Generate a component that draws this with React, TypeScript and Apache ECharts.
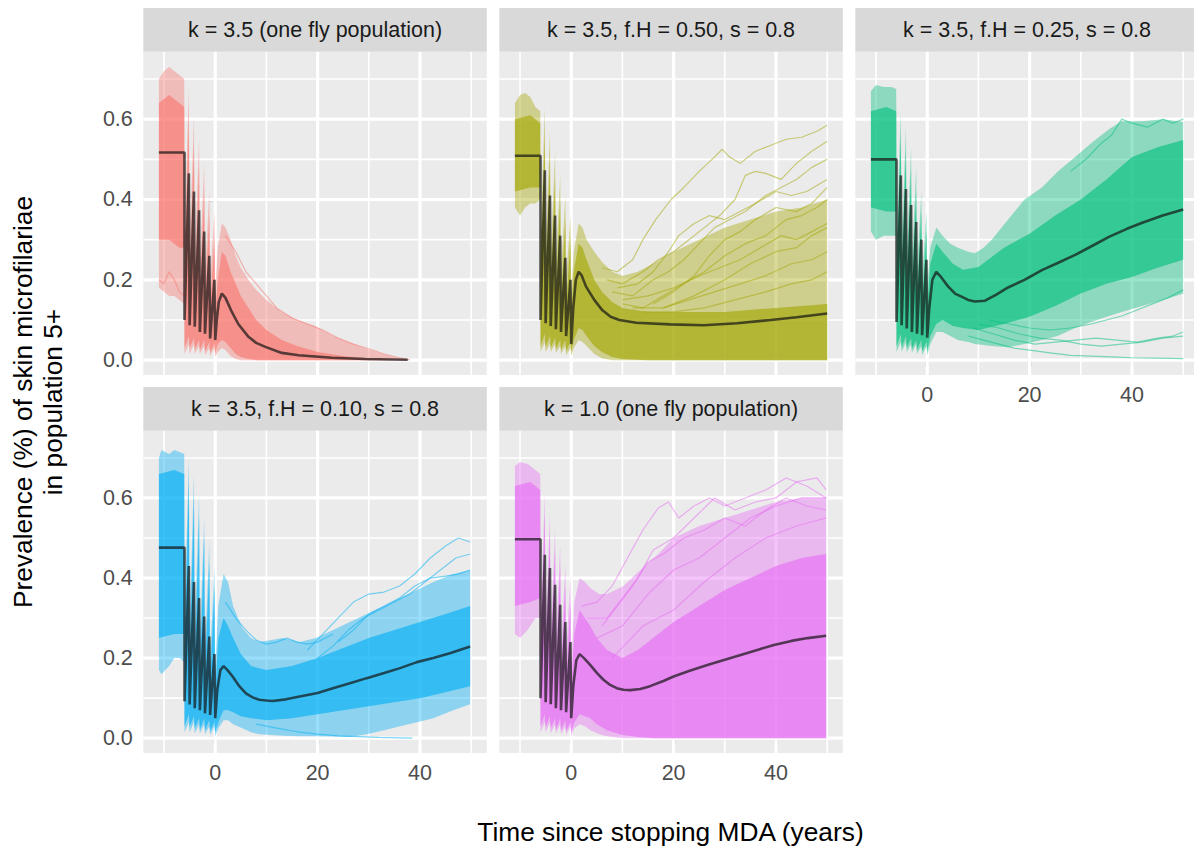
import { useEffect, useRef } from "react";
import * as echarts from "echarts";

type Band = [number, number, number][]; // [year, low, high]
type Pts = [number, number][];

const TITLES = [
  "k = 3.5 (one fly population)",
  "k = 3.5, f.H = 0.50, s = 0.8",
  "k = 3.5, f.H = 0.25, s = 0.8",
  "k = 3.5, f.H = 0.10, s = 0.8",
  "k = 1.0 (one fly population)",
];
const COLORS = ["#F8766D", "#A3A500", "#00BF7D", "#00B0F6", "#E76BF3"];

const X_MAJOR = [0, 20, 40];
const X_MINOR = [-10, 10, 30, 50];
const Y_MAJOR = [0, 0.2, 0.4, 0.6];
const Y_MINOR = [0.1, 0.3, 0.5, 0.7];

// ---- mean prevalence across runs ----
const MEAN_1: Pts = [
  [-11, 0.517], [-6, 0.517], [-6, 0.1], [-5.15, 0.465], [-5, 0.087], [-4.15, 0.42], [-4, 0.083],
  [-3.15, 0.373], [-3, 0.07], [-2.15, 0.32], [-2, 0.066], [-1.15, 0.26], [-1, 0.054], [-0.15, 0.2],
  [0, 0.05], [0.3, 0.1], [0.7, 0.145], [1.3, 0.166], [2, 0.155], [3.25, 0.12], [4.5, 0.09],
  [6.5, 0.058], [8, 0.043], [9.8, 0.033], [13, 0.018], [16.3, 0.012], [22.8, 0.006], [29.3, 0.003], [37.6, 0.001],
];
const MEAN_2: Pts = [
  [-11, 0.509], [-6, 0.509], [-6, 0.1], [-5.15, 0.473], [-5, 0.092], [-4.15, 0.41], [-4, 0.085],
  [-3.15, 0.36], [-3, 0.077], [-2.15, 0.31], [-2, 0.07], [-1.15, 0.255], [-1, 0.06], [-0.15, 0.2],
  [0, 0.04], [0.4, 0.13], [0.9, 0.2], [1.45, 0.22], [2, 0.212], [2.9, 0.183], [4.5, 0.15], [6.1, 0.124],
  [7.7, 0.108], [9.4, 0.1], [12.7, 0.093], [19.3, 0.089], [25.9, 0.087], [32.4, 0.092], [39, 0.1],
  [44, 0.107], [50, 0.116],
];
const MEAN_3: Pts = [
  [-11, 0.5], [-6, 0.5], [-6, 0.095], [-5.15, 0.46], [-5, 0.087], [-4.15, 0.426], [-4, 0.079],
  [-3.15, 0.386], [-3, 0.07], [-2.15, 0.344], [-2, 0.066], [-1.15, 0.3], [-1, 0.062], [-0.15, 0.25],
  [0, 0.056], [0.4, 0.13], [1, 0.2], [1.77, 0.22], [2.5, 0.21], [4.1, 0.183], [5.5, 0.165], [6.7, 0.158],
  [8, 0.15], [9.3, 0.146], [11.3, 0.148], [13.5, 0.163], [15.8, 0.181], [19, 0.2], [22.4, 0.224],
  [25.5, 0.242], [28.9, 0.262], [32, 0.283], [35.5, 0.307], [39, 0.327], [42, 0.342], [46, 0.36], [50, 0.375],
];
const MEAN_4: Pts = [
  [-11, 0.476], [-6, 0.476], [-6, 0.092], [-5.15, 0.43], [-5, 0.084], [-4.15, 0.39], [-4, 0.075],
  [-3.15, 0.35], [-3, 0.07], [-2.15, 0.304], [-2, 0.062], [-1.15, 0.254], [-1, 0.058], [-0.15, 0.21],
  [0, 0.05], [0.4, 0.12], [1, 0.17], [1.64, 0.18], [2.4, 0.17], [3.4, 0.154], [4.7, 0.13], [6, 0.112],
  [7.3, 0.102], [8.6, 0.096], [10, 0.094], [11.2, 0.093], [13.8, 0.097], [16.5, 0.104], [20, 0.113],
  [23, 0.125], [26.3, 0.137], [29.6, 0.15], [33, 0.163], [36.1, 0.175], [39.4, 0.19], [42.6, 0.2],
  [46, 0.213], [49.8, 0.229],
];
const MEAN_5: Pts = [
  [-11, 0.497], [-6, 0.497], [-6, 0.1], [-5.15, 0.458], [-5, 0.09], [-4.15, 0.425], [-4, 0.085],
  [-3.15, 0.383], [-3, 0.075], [-2.15, 0.333], [-2, 0.07], [-1.15, 0.29], [-1, 0.065], [-0.15, 0.24],
  [0, 0.05], [0.4, 0.13], [1, 0.195], [1.64, 0.21], [2.5, 0.2], [3.7, 0.183], [5, 0.163], [6.3, 0.146],
  [7.6, 0.133], [8.9, 0.125], [10.2, 0.121], [11.5, 0.12], [13.5, 0.123], [15.4, 0.13], [18, 0.143],
  [20, 0.154], [23, 0.168], [26.6, 0.183], [30, 0.196], [33.1, 0.208], [36.5, 0.221], [39.6, 0.233],
  [43, 0.243], [46.2, 0.25], [49.8, 0.256],
];

// ---- full spread of the runs ----
const OUTER_1: Band = [
  [-11, 0.18, 0.7], [-10, 0.17, 0.72], [-9, 0.16, 0.73], [-8, 0.16, 0.72], [-7, 0.15, 0.71], [-6.05, 0.14, 0.7],
  [-6, 0.015, 0.3], [-5.15, 0.04, 0.68], [-5, 0.015, 0.28], [-4.15, 0.04, 0.61], [-4, 0.015, 0.26],
  [-3.15, 0.035, 0.55], [-3, 0.015, 0.24], [-2.15, 0.035, 0.49], [-2, 0.012, 0.22], [-1.15, 0.03, 0.42],
  [-1, 0.01, 0.2], [-0.15, 0.03, 0.37], [0, 0.008, 0.17],
  [0.5, 0.02, 0.28], [1.3, 0.03, 0.34], [2, 0.025, 0.33], [3, 0.01, 0.3], [4, 0.003, 0.26], [5, 0, 0.23],
  [6.5, 0, 0.2], [8, 0, 0.175], [10, 0, 0.15], [13, 0, 0.12], [16, 0, 0.1], [19.5, 0, 0.085], [23, 0, 0.06],
  [26, 0, 0.045], [29, 0, 0.03], [32.5, 0, 0.015], [35, 0, 0.007], [38, 0, 0.001],
];
const OUTER_2: Band = [
  [-11, 0.38, 0.64], [-10, 0.36, 0.66], [-9, 0.38, 0.665], [-8, 0.39, 0.655], [-7, 0.39, 0.63], [-6.05, 0.4, 0.62],
  [-6, 0.02, 0.3], [-5.15, 0.045, 0.63], [-5, 0.02, 0.28], [-4.15, 0.04, 0.57], [-4, 0.02, 0.26],
  [-3.15, 0.04, 0.52], [-3, 0.018, 0.24], [-2.15, 0.035, 0.46], [-2, 0.015, 0.22], [-1.15, 0.035, 0.41],
  [-1, 0.012, 0.2], [-0.15, 0.03, 0.36], [0, 0.01, 0.17],
  [0.5, 0.03, 0.27], [1.45, 0.05, 0.34], [2.2, 0.045, 0.33], [3, 0.035, 0.3], [4.5, 0.015, 0.27],
  [6, 0.005, 0.245], [8, 0, 0.22], [10, 0, 0.21], [13, 0, 0.22], [16, 0, 0.24], [20, 0, 0.27], [25, 0, 0.3],
  [30, 0, 0.33], [35, 0, 0.35], [40, 0, 0.37], [45, 0, 0.38], [50, 0, 0.4],
];
const OUTER_3: Band = [
  [-11, 0.32, 0.67], [-10, 0.3, 0.685], [-8.5, 0.31, 0.68], [-7, 0.31, 0.68], [-6.05, 0.31, 0.675],
  [-6, 0.02, 0.3], [-5.15, 0.045, 0.62], [-5, 0.02, 0.28], [-4.15, 0.045, 0.58], [-4, 0.02, 0.26],
  [-3.15, 0.04, 0.53], [-3, 0.018, 0.24], [-2.15, 0.04, 0.48], [-2, 0.015, 0.22], [-1.15, 0.035, 0.42],
  [-1, 0.012, 0.2], [-0.15, 0.035, 0.37], [0, 0.012, 0.18],
  [0.6, 0.04, 0.28], [1.77, 0.07, 0.33], [3, 0.07, 0.31], [4.5, 0.06, 0.29], [6, 0.05, 0.28], [8, 0.045, 0.27],
  [9.3, 0.04, 0.266], [11, 0.038, 0.28], [12.6, 0.035, 0.3], [15.8, 0.032, 0.35], [19, 0.04, 0.4],
  [22.4, 0.05, 0.43], [25.5, 0.06, 0.47], [28.9, 0.08, 0.506], [32, 0.095, 0.54], [35.5, 0.11, 0.575],
  [38, 0.12, 0.595], [42, 0.135, 0.595], [46, 0.15, 0.6], [50, 0.165, 0.593],
];
const OUTER_4: Band = [
  [-11, 0.17, 0.7], [-10.5, 0.16, 0.72], [-9, 0.18, 0.71], [-8, 0.2, 0.72], [-7, 0.2, 0.715], [-6.05, 0.19, 0.71],
  [-6, 0.015, 0.3], [-5.15, 0.04, 0.7], [-5, 0.015, 0.28], [-4.15, 0.04, 0.66], [-4, 0.012, 0.26],
  [-3.15, 0.035, 0.61], [-3, 0.012, 0.24], [-2.15, 0.035, 0.55], [-2, 0.01, 0.22], [-1.15, 0.03, 0.49],
  [-1, 0.008, 0.2], [-0.15, 0.03, 0.43], [0, 0.005, 0.17],
  [0.6, 0.025, 0.33], [1.64, 0.045, 0.41], [2.5, 0.045, 0.39], [3.5, 0.035, 0.33], [5.3, 0.025, 0.275],
  [7, 0.015, 0.25], [8.6, 0.01, 0.24], [11, 0.008, 0.245], [13.2, 0.006, 0.25], [16.5, 0.005, 0.24],
  [19.7, 0.005, 0.25], [23, 0.004, 0.27], [26.3, 0.003, 0.29], [29.6, 0.01, 0.31], [33, 0.02, 0.33],
  [36.1, 0.03, 0.35], [39.4, 0.04, 0.37], [42.6, 0.05, 0.39], [46.5, 0.07, 0.41], [49.8, 0.085, 0.42],
];
const OUTER_5: Band = [
  [-11, 0.26, 0.68], [-10, 0.25, 0.69], [-8.5, 0.27, 0.685], [-7, 0.3, 0.67], [-6.05, 0.3, 0.66],
  [-6, 0.015, 0.3], [-5.15, 0.04, 0.61], [-5, 0.015, 0.28], [-4.15, 0.04, 0.56], [-4, 0.012, 0.26],
  [-3.15, 0.035, 0.525], [-3, 0.012, 0.24], [-2.15, 0.035, 0.483], [-2, 0.01, 0.22], [-1.15, 0.03, 0.433],
  [-1, 0.008, 0.21], [-0.15, 0.03, 0.404], [0, 0.005, 0.19],
  [0.6, 0.025, 0.34], [1.64, 0.035, 0.4], [2.7, 0.03, 0.39], [3.7, 0.02, 0.375], [5.5, 0.01, 0.36],
  [7, 0.005, 0.36], [10.2, 0, 0.38], [13.5, 0, 0.42], [17, 0, 0.46], [20, 0, 0.5], [25, 0, 0.53],
  [30, 0, 0.55], [35, 0, 0.57], [40, 0, 0.59], [45, 0, 0.6], [49.8, 0, 0.6],
];

// ---- where most runs lie ----
const CORE_1: Band = [
  [-11, 0.3, 0.64], [-9, 0.3, 0.66], [-7, 0.28, 0.64], [-6.05, 0.28, 0.63],
  [-6, 0.03, 0.22], [-5.15, 0.06, 0.6], [-5, 0.03, 0.2], [-4.15, 0.055, 0.54], [-4, 0.028, 0.18],
  [-3.15, 0.05, 0.48], [-3, 0.025, 0.16], [-2.15, 0.05, 0.42], [-2, 0.022, 0.14], [-1.15, 0.045, 0.36],
  [-1, 0.02, 0.13], [-0.15, 0.04, 0.3], [0, 0.018, 0.12],
  [0.5, 0.04, 0.2], [1.3, 0.05, 0.27], [2, 0.045, 0.26], [3, 0.03, 0.22], [4, 0.015, 0.19], [5, 0.008, 0.16],
  [6.5, 0.003, 0.13], [8, 0, 0.1], [10, 0, 0.075], [13, 0, 0.05], [16, 0, 0.035], [20, 0, 0.02],
  [25, 0, 0.01], [30, 0, 0.004], [37.5, 0, 0.001],
];
const CORE_2: Band = [
  [-11, 0.42, 0.6], [-8, 0.43, 0.61], [-6.05, 0.43, 0.59],
  [-6, 0.035, 0.22], [-5.15, 0.065, 0.56], [-5, 0.032, 0.2], [-4.15, 0.06, 0.5], [-4, 0.03, 0.18],
  [-3.15, 0.055, 0.45], [-3, 0.028, 0.16], [-2.15, 0.05, 0.4], [-2, 0.025, 0.14], [-1.15, 0.05, 0.35],
  [-1, 0.022, 0.13], [-0.15, 0.045, 0.3], [0, 0.02, 0.12],
  [0.5, 0.05, 0.22], [1.45, 0.08, 0.29], [2.2, 0.075, 0.28], [3, 0.06, 0.25], [4.5, 0.035, 0.2],
  [6, 0.02, 0.17], [8, 0.008, 0.145], [10, 0.003, 0.13], [15, 0, 0.12], [20, 0, 0.12], [30, 0, 0.12],
  [40, 0, 0.13], [50, 0, 0.14],
];
const CORE_3: Band = [
  [-11, 0.38, 0.62], [-8, 0.37, 0.63], [-6.05, 0.37, 0.62],
  [-6, 0.035, 0.22], [-5.15, 0.065, 0.56], [-5, 0.032, 0.2], [-4.15, 0.06, 0.52], [-4, 0.03, 0.18],
  [-3.15, 0.055, 0.47], [-3, 0.028, 0.16], [-2.15, 0.05, 0.42], [-2, 0.025, 0.15], [-1.15, 0.05, 0.37],
  [-1, 0.022, 0.14], [-0.15, 0.045, 0.32], [0, 0.022, 0.13],
  [0.6, 0.06, 0.24], [1.77, 0.09, 0.29], [3, 0.1, 0.27], [5, 0.085, 0.24], [7, 0.08, 0.225],
  [10, 0.075, 0.232], [15, 0.09, 0.28], [20, 0.108, 0.315], [25, 0.135, 0.36], [30, 0.166, 0.4],
  [35, 0.19, 0.45], [40, 0.207, 0.506], [45, 0.23, 0.53], [50, 0.25, 0.548],
];
const CORE_4: Band = [
  [-11, 0.25, 0.66], [-8, 0.26, 0.67], [-6.05, 0.26, 0.66],
  [-6, 0.03, 0.22], [-5.15, 0.06, 0.64], [-5, 0.028, 0.2], [-4.15, 0.055, 0.6], [-4, 0.025, 0.18],
  [-3.15, 0.05, 0.55], [-3, 0.022, 0.16], [-2.15, 0.05, 0.5], [-2, 0.02, 0.15], [-1.15, 0.045, 0.44],
  [-1, 0.018, 0.14], [-0.15, 0.04, 0.38], [0, 0.015, 0.12],
  [0.6, 0.04, 0.25], [1.64, 0.07, 0.3], [2.5, 0.07, 0.28], [3.5, 0.065, 0.25], [5, 0.055, 0.21],
  [7, 0.05, 0.18], [10, 0.045, 0.17], [15, 0.05, 0.18], [20, 0.06, 0.2], [25, 0.07, 0.225],
  [30, 0.08, 0.25], [35, 0.09, 0.27], [40, 0.1, 0.29], [45, 0.115, 0.31], [49.8, 0.13, 0.33],
];
const CORE_5: Band = [
  [-11, 0.33, 0.63], [-8, 0.34, 0.64], [-6.05, 0.35, 0.62],
  [-6, 0.03, 0.22], [-5.15, 0.06, 0.56], [-5, 0.028, 0.2], [-4.15, 0.055, 0.51], [-4, 0.025, 0.18],
  [-3.15, 0.05, 0.47], [-3, 0.022, 0.16], [-2.15, 0.05, 0.43], [-2, 0.02, 0.15], [-1.15, 0.045, 0.38],
  [-1, 0.018, 0.14], [-0.15, 0.04, 0.34], [0, 0.015, 0.13],
  [0.6, 0.04, 0.26], [1.64, 0.06, 0.32], [2.7, 0.055, 0.3], [3.7, 0.05, 0.28], [5, 0.035, 0.25],
  [7, 0.02, 0.22], [10, 0.008, 0.2], [13, 0.003, 0.22], [16, 0, 0.25], [20, 0, 0.29], [25, 0, 0.33],
  [30, 0, 0.37], [35, 0, 0.4], [40, 0, 0.43], [45, 0, 0.45], [49.8, 0, 0.46],
];

// ---- individual runs standing out from the crowd ----
const RUNS_1: Pts[] = [
  [[2, 0.31], [4, 0.27], [6, 0.22], [8, 0.19], [10, 0.16], [12, 0.13], [15, 0.105], [18, 0.09], [21, 0.075],
    [24, 0.055], [27, 0.04], [30, 0.028], [33, 0.015], [36, 0.006], [38, 0.001]],
  [[-11, 0.2], [-10, 0.19], [-9, 0.22], [-8, 0.2], [-7, 0.17], [-6.05, 0.16]],
];
const RUNS_2: Pts[] = [
  [[6, 0.23], [9, 0.22], [12, 0.25], [14, 0.3], [16.5, 0.35], [19.5, 0.4], [22, 0.43], [25, 0.47], [27.5, 0.5],
    [29.5, 0.525], [31, 0.505], [33, 0.49], [36, 0.52], [39, 0.535], [42, 0.55], [45, 0.555], [48, 0.57], [50, 0.585]],
  [[7, 0.2], [10, 0.19], [14, 0.22], [17, 0.25], [20, 0.27], [23, 0.3], [26, 0.33], [29, 0.36], [32, 0.4],
    [34, 0.46], [36, 0.47], [38, 0.465], [41, 0.45], [44, 0.49], [47, 0.52], [50, 0.545]],
  [[8, 0.17], [12, 0.16], [16, 0.2], [19, 0.22], [22, 0.25], [25, 0.29], [28, 0.33], [31, 0.35], [34, 0.37],
    [38, 0.41], [41, 0.43], [44, 0.45], [47, 0.48], [50, 0.5]],
  [[9, 0.18], [13, 0.19], [16, 0.22], [19, 0.27], [21, 0.31], [24, 0.34], [27, 0.36], [30, 0.35], [33, 0.37],
    [36, 0.39], [40, 0.42], [43, 0.41], [46, 0.42], [50, 0.45]],
  [[10, 0.14], [14, 0.13], [18, 0.16], [22, 0.19], [26, 0.22], [30, 0.26], [34, 0.29], [38, 0.31], [42, 0.35],
    [45, 0.36], [48, 0.38], [50, 0.4]],
  [[10, 0.15], [15, 0.16], [20, 0.18], [25, 0.21], [29, 0.23], [33, 0.25], [37, 0.28], [41, 0.31], [44, 0.3],
    [47, 0.32], [50, 0.34]],
  [[12, 0.13], [18, 0.13], [23, 0.15], [28, 0.17], [33, 0.19], [38, 0.21], [43, 0.24], [47, 0.25], [50, 0.27]],
  [[14, 0.12], [20, 0.12], [26, 0.13], [32, 0.15], [38, 0.17], [43, 0.19], [47, 0.2], [50, 0.22]],
  [[16, 0.14], [20, 0.17], [24, 0.21], [27, 0.26], [30, 0.3], [33, 0.32], [36, 0.35], [40, 0.38], [44, 0.37],
    [47, 0.39], [50, 0.43]],
  [[18, 0.13], [24, 0.16], [30, 0.2], [35, 0.24], [40, 0.27], [44, 0.28], [47, 0.31], [50, 0.33]],
];
const RUNS_3: Pts[] = [
  [[8, 0.06], [11, 0.05], [14, 0.04], [17, 0.03], [20, 0.025], [24, 0.018], [28, 0.012], [32, 0.01], [36, 0.008],
    [40, 0.006], [45, 0.005], [50, 0.004]],
  [[9, 0.08], [13, 0.065], [17, 0.05], [21, 0.04], [25, 0.045], [29, 0.05], [33, 0.055], [37, 0.05], [41, 0.045],
    [45, 0.055], [48, 0.06], [50, 0.07]],
  [[10, 0.09], [14, 0.08], [18, 0.065], [22, 0.055], [26, 0.05], [30, 0.04], [34, 0.035], [38, 0.04], [42, 0.045],
    [46, 0.055], [50, 0.06]],
  [[12, 0.1], [16, 0.09], [20, 0.08], [24, 0.075], [28, 0.08], [32, 0.09], [35, 0.1], [38, 0.11], [41, 0.125],
    [44, 0.14], [47, 0.155], [50, 0.175]],
  [[28, 0.47], [31, 0.5], [34, 0.54], [36, 0.56], [38, 0.6], [40, 0.59], [43, 0.58], [46, 0.6], [48, 0.59], [50, 0.6]],
];
const RUNS_4: Pts[] = [
  [[18, 0.22], [21, 0.26], [24, 0.3], [27, 0.34], [30, 0.36], [33, 0.365], [36, 0.38], [39, 0.41], [42, 0.45],
    [45, 0.48], [47.5, 0.5], [49.8, 0.49]],
  [[20, 0.2], [23, 0.23], [26, 0.27], [29, 0.3], [32, 0.32], [35, 0.34], [38, 0.36], [41, 0.39], [44, 0.42],
    [47, 0.45], [49.8, 0.46]],
  [[2, 0.34], [4, 0.3], [6, 0.27], [8, 0.245], [10, 0.235], [12, 0.24], [14, 0.25], [16, 0.24], [18, 0.235],
    [20, 0.24], [23, 0.26]],
  [[24, 0.24], [27, 0.27], [30, 0.31], [33, 0.33], [36, 0.35], [39, 0.38], [42, 0.4], [45, 0.405], [47.5, 0.41],
    [49.8, 0.42]],
  [[8, 0.035], [12, 0.025], [16, 0.016], [20, 0.01], [24, 0.006], [28, 0.004], [32, 0.002], [36, 0.001], [38.5, 0]],
];
const RUNS_5: Pts[] = [
  [[2, 0.33], [5, 0.34], [8, 0.38], [11, 0.45], [14, 0.52], [17, 0.575], [19, 0.59], [21, 0.55], [24, 0.58],
    [27, 0.6], [30, 0.58], [34, 0.6], [38, 0.62], [42, 0.65], [46, 0.63], [49.8, 0.6]],
  [[3, 0.3], [7, 0.3], [10, 0.35], [13, 0.4], [16, 0.47], [20, 0.5], [24, 0.55], [28, 0.6], [32, 0.57],
    [36, 0.59], [40, 0.6], [44, 0.64], [48, 0.65], [49.8, 0.62]],
  [[5, 0.25], [10, 0.28], [15, 0.36], [20, 0.42], [25, 0.45], [30, 0.5], [35, 0.55], [40, 0.58], [45, 0.6], [49.8, 0.6]],
  [[8, 0.2], [14, 0.28], [20, 0.32], [26, 0.39], [32, 0.45], [38, 0.5], [44, 0.53], [49.8, 0.55]],
  [[6, 0.28], [9, 0.33], [12, 0.38], [15, 0.44], [18, 0.46], [22, 0.5], [26, 0.52], [30, 0.55], [34, 0.53],
    [38, 0.57], [42, 0.6], [46, 0.58], [49.8, 0.57]],
];

const MEANS = [MEAN_1, MEAN_2, MEAN_3, MEAN_4, MEAN_5];
const OUTERS = [OUTER_1, OUTER_2, OUTER_3, OUTER_4, OUTER_5];
const CORES = [CORE_1, CORE_2, CORE_3, CORE_4, CORE_5];
const RUNS = [RUNS_1, RUNS_2, RUNS_3, RUNS_4, RUNS_5];

// facet layout in pixels
const FONT = "'Liberation Sans', Arial, Helvetica, sans-serif";
const X_MIN = -14.05;
const X_SCALE = 5.119; // px per year
const Y_MIN = -0.037;
const Y_MAX = 0.768;
const STRIP_H = 43.6;
const LAYOUT = [
  { left: 143.3, top: 51.7, width: 343.5, height: 323.3, xLab: false, yLab: true },
  { left: 499.3, top: 51.7, width: 343.5, height: 323.3, xLab: false, yLab: false },
  { left: 855.3, top: 51.7, width: 338.7, height: 323.3, xLab: true, yLab: false },
  { left: 143.3, top: 430.7, width: 343.5, height: 322.3, xLab: true, yLab: true },
  { left: 499.3, top: 430.7, width: 343.5, height: 322.3, xLab: true, yLab: false },
];

function rgba(hex: string, a: number) {
  const n = parseInt(hex.slice(1), 16);
  return `rgba(${(n >> 16) & 255},${(n >> 8) & 255},${n & 255},${a})`;
}

function buildOption() {
  const grid: any[] = [];
  const xAxis: any[] = [];
  const yAxis: any[] = [];
  const series: any[] = [];
  const graphic: any[] = [];

  LAYOUT.forEach((p, i) => {
    grid.push({
      left: p.left, top: p.top, width: p.width, height: p.height,
      show: true, backgroundColor: "#EBEBEB", borderWidth: 0,
      containLabel: false, outerBoundsMode: "none",
    });
    xAxis.push({
      type: "value", gridIndex: i, min: X_MIN, max: X_MIN + p.width / X_SCALE,
      splitLine: { show: false }, axisLine: { show: false },
      axisTick: {
        show: p.xLab, customValues: X_MAJOR, length: 6.7,
        lineStyle: { color: "#333333", width: 2.2 },
      },
      axisLabel: {
        show: p.xLab, customValues: X_MAJOR, margin: 9, color: "#4D4D4D",
        fontSize: 21.5, fontFamily: FONT,
      },
    });
    yAxis.push({
      type: "value", gridIndex: i, min: Y_MIN, max: Y_MAX,
      splitLine: { show: false }, axisLine: { show: false },
      axisTick: {
        show: p.yLab, customValues: Y_MAJOR, length: 6.7,
        lineStyle: { color: "#333333", width: 2.2 },
      },
      axisLabel: {
        show: p.yLab, customValues: Y_MAJOR, margin: 10.5, color: "#4D4D4D",
        fontSize: 21.5, fontFamily: FONT, formatter: (v: number) => v.toFixed(1),
      },
    });

    // panel grid lines (white, minor thinner)
    series.push({
      type: "custom", xAxisIndex: i, yAxisIndex: i, silent: true, z: 1,
      data: [[0, 0]],
      renderItem: (params: any, api: any) => {
        const cs = params.coordSys;
        const children: any[] = [];
        const hLine = (v: number, w: number) => {
          const y = api.coord([0, v])[1];
          children.push({ type: "line", shape: { x1: cs.x, y1: y, x2: cs.x + cs.width, y2: y }, style: { stroke: "#FFFFFF", lineWidth: w } });
        };
        const vLine = (v: number, w: number) => {
          const x = api.coord([v, 0])[0];
          children.push({ type: "line", shape: { x1: x, y1: cs.y, x2: x, y2: cs.y + cs.height }, style: { stroke: "#FFFFFF", lineWidth: w } });
        };
        Y_MINOR.forEach((v) => hLine(v, 1.6));
        X_MINOR.forEach((v) => vLine(v, 1.6));
        Y_MAJOR.forEach((v) => hLine(v, 3.2));
        X_MAJOR.forEach((v) => vLine(v, 3.2));
        return { type: "group", children };
      },
    });

    // spread of the runs as filled envelopes
    const band = (b: Band, fill: string, z: number) => ({
      type: "custom", xAxisIndex: i, yAxisIndex: i, silent: true, z,
      data: [[0, 0]],
      renderItem: (_params: any, api: any) => {
        const upper = b.map(([x, , hi]) => api.coord([x, hi]));
        const lower = b.slice().reverse().map(([x, lo]) => api.coord([x, lo]));
        return { type: "polygon", shape: { points: upper.concat(lower) }, style: { fill } };
      },
    });
    series.push(band(OUTERS[i], rgba(COLORS[i], 0.4), 2));
    series.push(band(CORES[i], rgba(COLORS[i], 0.62), 2));

    RUNS[i].forEach((r) => {
      series.push({
        type: "line", xAxisIndex: i, yAxisIndex: i, data: r, showSymbol: false, silent: true, z: 3,
        lineStyle: { color: rgba(COLORS[i], 0.5), width: 1.2 },
      });
    });

    series.push({
      type: "line", xAxisIndex: i, yAxisIndex: i, data: MEANS[i], showSymbol: false, silent: true, z: 4,
      lineStyle: { color: "rgba(20,20,20,0.7)", width: 2.6 },
    });

    // facet strip
    graphic.push({
      type: "rect", silent: true,
      shape: { x: p.left, y: p.top - STRIP_H, width: p.width, height: STRIP_H },
      style: { fill: "#D9D9D9" },
    });
    graphic.push({
      type: "text", silent: true, x: p.left + 343.5 / 2, y: p.top - STRIP_H / 2,
      style: {
        text: TITLES[i], fill: "#1A1A1A", fontSize: 21.5, fontFamily: FONT,
        align: "center", verticalAlign: "middle",
      },
    });
  });

  graphic.push({
    type: "text", silent: true, x: 670.5, y: 832,
    style: {
      text: "Time since stopping MDA (years)", fill: "#000000", fontSize: 26.3, fontFamily: FONT,
      align: "center", verticalAlign: "middle",
    },
  });
  graphic.push({
    type: "text", silent: true, x: 38, y: 402, rotation: Math.PI / 2,
    style: {
      text: "Prevalence (%) of skin microfilariae\nin population 5+", fill: "#000000", fontSize: 26.3,
      fontFamily: FONT, align: "center", verticalAlign: "middle", lineHeight: 30,
    },
  });

  return { animation: false, backgroundColor: "#FFFFFF", grid, xAxis, yAxis, series, graphic };
}

export default function App() {
  const ref = useRef<HTMLDivElement>(null);
  useEffect(() => {
    if (!ref.current) return;
    const chart = echarts.init(ref.current, null, { renderer: "svg" });
    chart.setOption(buildOption() as any);
    return () => chart.dispose();
  }, []);
  return (
    <div
      ref={ref}
      style={{ position: "fixed", left: 0, top: 0, width: 1194, height: 848, background: "#FFFFFF" }}
    />
  );
}
